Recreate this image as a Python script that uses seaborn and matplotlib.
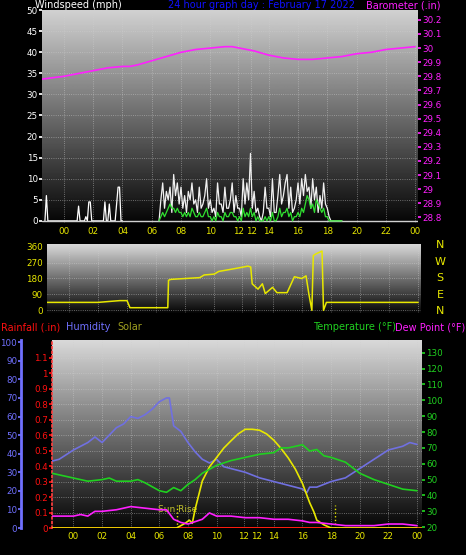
import numpy as np
import pandas as pd
import matplotlib
matplotlib.use("Agg")
import matplotlib.pyplot as plt
import seaborn as sns

sns.set_theme(style="dark")
plt.rcParams['font.family'] = ['DejaVu Sans']

# ---------------- data ----------------
baro_h = [-1.5, 0, 1, 2, 3, 4, 4.5, 5, 6, 7, 8, 9, 10, 11, 11.5, 12, 13, 14, 15, 16, 17, 18, 19, 20, 21, 22, 23, 24]
baro_v = [29.78, 29.80, 29.82, 29.84, 29.86, 29.87, 29.87, 29.88, 29.91, 29.94, 29.97, 29.99, 30.00, 30.01, 30.01, 30.00, 29.98, 29.95, 29.93, 29.92, 29.92, 29.93, 29.94, 29.96, 29.97, 29.99, 30.00, 30.01]

early_h = [-1.3, -1.2, -1.1, 0.9, 1.0, 1.1, 1.4, 1.5, 1.6, 1.7, 1.8, 1.9, 2.7, 2.8, 2.9, 3.0, 3.1, 3.2, 3.5, 3.6, 3.7, 3.8, 3.9, 4.0]
early_v = [0, 6, 0, 0, 3.5, 0, 0, 1, 0, 4.5, 4.5, 0, 0, 4.5, 0, 0, 4, 0, 0, 4, 8, 8, 0, 0]
gust_h = np.linspace(6.5, 19.0, 101)
gust_v = [0, 5, 9, 3, 7, 5, 8, 2, 11, 6,
          9, 4, 8, 3, 6, 2, 7, 5, 9, 4,
          5, 2, 8, 3, 4, 6, 10, 3, 5, 2,
          3, 1, 9, 4, 4, 2, 8, 3, 3, 5,
          9, 2, 6, 3, 3, 1, 10, 4, 9, 5,
          16, 3, 7, 2, 3, 1, 0, 2, 8, 3,
          3, 1, 10, 2, 2, 6, 11, 4, 6, 9,
          11, 3, 8, 2, 3, 5, 9, 4, 10, 6,
          11, 7, 8, 3, 10, 5, 8, 2, 6, 3,
          9, 4, 3, 1, 0, 0, 0, 0, 0, 0, 0]
avg_v = [0, 1, 2, 1, 2, 3, 4, 3, 3, 2,
         3, 2, 2, 1, 2, 1, 2, 1, 3, 2,
         1, 1, 2, 1, 1, 2, 3, 1, 1, 0,
         1, 0, 2, 1, 1, 0, 2, 1, 1, 2,
         2, 1, 1, 0, 1, 0, 3, 1, 2, 1,
         3, 1, 2, 0, 1, 0, 0, 0, 1, 0,
         1, 0, 2, 0, 0, 1, 3, 1, 2, 2,
         3, 1, 2, 0, 1, 1, 2, 1, 3, 2,
         4, 6, 5, 3, 4, 2, 5, 4, 3, 2,
         3, 1, 1, 0, 0, 0, 0, 0, 0, 0, 0]

dir_h = [-1.5, 0, 2, 3.5, 4, 4.2, 5, 6.8, 6.85, 7, 8, 9, 9.3, 10, 10.3, 11, 12, 12.3, 12.5, 12.6, 13, 13.3, 13.5, 14, 14.3, 15, 15.5, 16, 16.3, 16.5, 16.7, 16.8, 17, 17.4, 17.5, 17.7, 20, 24]
dir_v = [45, 45, 45, 55, 55, 15, 15, 15, 170, 175, 180, 185, 200, 205, 220, 230, 245, 250, 245, 150, 120, 150, 95, 130, 100, 100, 190, 180, 195, 90, 0, 310, 320, 335, 0, 45, 45, 45]

hum_h = [-1.5, -1, 0, 0.5, 1, 1.5, 2, 2.5, 3, 3.5, 4, 4.5, 5, 5.5, 6, 6.5, 6.7, 7, 7.5, 8, 8.5, 9, 9.5, 10, 10.5, 11, 12, 13, 14, 15, 16, 16.3, 16.5, 17, 18, 19, 20, 21, 22, 23, 23.5, 24]
hum_v = [36, 37, 42, 44, 46, 49, 46, 50, 54, 56, 60, 59, 61, 64, 68, 70, 70, 55, 52, 46, 41, 37, 35, 37, 33, 32, 30, 27, 25, 23, 21, 19, 22, 22, 25, 27, 32, 37, 42, 44, 46, 45]

temp_h = [-1.5, 0, 1, 2, 2.5, 3, 4, 4.5, 5, 6, 6.5, 7, 7.5, 8, 8.5, 9, 10, 11, 12, 13, 14, 14.5, 15, 16, 16.5, 17, 17.5, 18, 19, 20, 21, 22, 23, 24]
temp_v = [54, 51, 49, 50, 51, 49, 49, 50, 48, 43, 42, 45, 43, 47, 50, 54, 59, 62, 64, 66, 67, 70, 70, 72, 68, 69, 65, 64, 61, 54, 50, 47, 44, 43]

dew_h = [-1.5, 0, 0.5, 1, 1.5, 2, 3, 4, 5, 6, 6.5, 7, 7.5, 8, 9, 9.5, 10, 11, 12, 13, 14, 15, 16, 16.5, 17, 18, 19, 20, 21, 22, 23, 24]
dew_v = [27, 27, 28, 27, 30, 30, 31, 33, 32, 31, 31, 25, 23, 22, 25, 29, 27, 27, 26, 26, 25, 25, 24, 23, 23, 22, 21, 21, 21, 22, 22, 21]

sol_h = [-1.5, 7.2, 7.8, 8.1, 8.3, 8.5, 9, 9.5, 10, 10.5, 11, 11.5, 12, 12.5, 13, 13.5, 14, 14.5, 15, 15.5, 16, 16.5, 16.8, 17, 17.5, 18, 24]
sol_v = [0, 0, 15, 25, 15, 60, 150, 195, 225, 255, 278, 300, 315, 315, 312, 300, 280, 254, 224, 188, 142, 81, 51, 25, 10, 0, 0]

rain_h = [-1.5, 24]
rain_v = [0, 0]

xt_pos = [0, 2, 4, 6, 8, 10, 11.9, 12.8, 14, 16, 18, 20, 22, 24]
xt_lab = ["00", "02", "04", "06", "08", "10", "12", "12", "14", "16", "18", "20", "22", "00"]

# ---------------- figure ----------------
W, H = 466, 555
fig = plt.figure(figsize=(W / 100, H / 100), dpi=100, facecolor="black")

def box(x0, y0, x1, y1):
    return [x0 / W, 1 - y1 / H, (x1 - x0) / W, (y1 - y0) / H]

def backdrop(ax, top=0.82):
    grad = np.linspace(top, 0.02, 256).reshape(-1, 1)
    ax.imshow(grad, cmap="gray", vmin=0, vmax=1, aspect="auto",
              extent=[0, 1, 0, 1], transform=ax.transAxes, zorder=0)
    ax.grid(True, color="#d0d0d0", linestyle=":", linewidth=0.6, alpha=0.6)
    for s in ax.spines.values():
        s.set_visible(False)

YEL = "#e8e800"
fs = 6.3
tfs = 7

# ---- top panel ----
ax1 = fig.add_axes(box(42, 10, 418, 223))
backdrop(ax1)
sns.lineplot(x=early_h, y=early_v, ax=ax1, color="white", lw=0.9, zorder=3)
sns.lineplot(x=gust_h, y=gust_v, ax=ax1, color="#f0f0f0", lw=0.9, zorder=3)
sns.lineplot(x=gust_h, y=avg_v, ax=ax1, color="#30e030", lw=0.9, zorder=4)
ax1.axhline(0, color="#d0d0d0", lw=1, zorder=3)
ax1.set_xlim(-1.5, 24.2)
ax1.set_ylim(-0.5, 50)
ax1.set_yticks(range(0, 51, 5))
ax1.tick_params(axis="y", colors="white", labelsize=fs, length=2, pad=1)
ax1.set_xticks(xt_pos)
ax1.set_xticklabels(xt_lab)
ax1.tick_params(axis="x", colors=YEL, labelsize=fs, length=0, pad=3)
for t in ax1.get_xticklabels(): t.set_color(YEL)
ax1b = ax1.twinx()
sns.lineplot(x=baro_h, y=baro_v, ax=ax1b, color="#ff20ff", lw=1.2)
ax1b.set_ylim(28.76, 30.27)
bt = np.round(np.arange(28.8, 30.21, 0.1), 1)
ax1b.set_yticks(bt)
ax1b.set_yticklabels([f"{v:g}" for v in bt])
ax1b.tick_params(axis="y", colors="#ff20ff", labelsize=fs, length=2, pad=1)
for t in ax1b.get_yticklabels(): t.set_color("#ff20ff")
ax1b.grid(False)
for s in ax1b.spines.values(): s.set_visible(False)
ax1.set_xlabel(""); ax1.set_ylabel(""); ax1b.set_ylabel("")

fig.text(35 / W, 1 - 5 / H, "Windspeed (mph)", color="white", fontsize=tfs, va="center")
fig.text(262 / W, 1 - 5 / H, "24 hour graph day : February 17 2022", color="#1010ff", fontsize=tfs, va="center", ha="center")
fig.text(440 / W, 1 - 5 / H, "Barometer (.in)", color="#ff20ff", fontsize=tfs, va="center", ha="right")

# ---- middle panel ----
ax2 = fig.add_axes(box(47, 244, 421, 313))
backdrop(ax2, top=0.85)
sns.lineplot(x=dir_h, y=dir_v, ax=ax2, color=YEL, lw=1.1, zorder=3, sort=False)
ax2.set_xlim(-1.5, 24.2)
ax2.set_ylim(-15, 375)
ax2.set_yticks([0, 90, 180, 270, 360])
ax2.set_xticks(xt_pos)
ax2.set_xticklabels([])
ax2.tick_params(axis="y", colors=YEL, labelsize=fs, length=2, pad=1)
for t in ax2.get_yticklabels(): t.set_color(YEL)
ax2.set_xlabel(""); ax2.set_ylabel("")
for i, c in enumerate("NWSEN"):
    fig.text(440 / W, 1 - (245 + i * 16.5) / H, c, color=YEL, fontsize=8, ha="center", va="center")

# ---- bottom panel ----
ax3 = fig.add_axes(box(52, 340, 422, 528))
backdrop(ax3, top=0.85)
axh = ax3.twinx()
axs = ax3.twinx()
axt = ax3.twinx()

sns.lineplot(x=hum_h, y=hum_v, ax=axh, color="#7070e0", lw=1.2)
sns.lineplot(x=sol_h, y=sol_v, ax=axs, color=YEL, lw=1.2)
sns.lineplot(x=temp_h, y=temp_v, ax=axt, color="#20d020", lw=1.2)
sns.lineplot(x=dew_h, y=dew_v, ax=axt, color="#ff20ff", lw=1.2)
sns.lineplot(x=rain_h, y=rain_v, ax=ax3, color="#ff1010", lw=2, zorder=5)

ax3.set_xlim(-1.5, 24.35)
ax3.set_ylim(0, 1.215)
rt = np.round(np.arange(0, 1.11, 0.1), 1)
ax3.set_yticks(rt)
ax3.set_yticklabels([f"{v:g}" for v in rt])
ax3.tick_params(axis="y", colors="#ff1010", labelsize=fs, length=2, pad=1)
for t in ax3.get_yticklabels(): t.set_color("#ff1010")
ax3.spines["left"].set_visible(True)
ax3.spines["left"].set_color("#ff4040")
ax3.spines["left"].set_linestyle(":")
ax3.set_xticks(xt_pos)
ax3.set_xticklabels(xt_lab)
ax3.tick_params(axis="x", colors=YEL, labelsize=fs, length=0, pad=3)
for t in ax3.get_xticklabels(): t.set_color(YEL)

axh.set_ylim(0, 101.2)
axh.yaxis.set_ticks_position("left")
axh.spines["left"].set_position(("outward", 22))
axh.spines["left"].set_visible(True)
axh.spines["left"].set_color("#7070ff")
axh.spines["left"].set_linewidth(2)
axh.set_yticks(range(0, 101, 10))
axh.tick_params(axis="y", colors="#7070ff", labelsize=fs, length=2, pad=1)
for t in axh.get_yticklabels(): t.set_color("#7070ff")
for k in ["right", "top", "bottom"]: axh.spines[k].set_visible(False)
axh.grid(False)

axs.set_ylim(0, 600)
axs.set_yticks([])
for s in axs.spines.values(): s.set_visible(False)
axs.grid(False)

axt.set_ylim(19.5, 138)
axt.set_yticks(range(20, 131, 10))
axt.tick_params(axis="y", colors="#20d020", labelsize=fs, length=2, pad=1)
for t in axt.get_yticklabels(): t.set_color("#20d020")
for s in axt.spines.values(): s.set_visible(False)
axt.grid(False)

ax3.axhline(0.003, color="#ffa000", lw=1.2, zorder=4)
for xv in [7.2, 18.3]:
    ax3.axvline(xv, ymin=0, ymax=0.12, color=YEL, ls=":", lw=1, zorder=5)
ax3.text(7.3, 0.12, "Sun Rise", color="#c0c030", fontsize=6.5, ha="center", va="center", zorder=6)
for a in [ax3, axh, axs, axt]:
    a.set_xlabel(""); a.set_ylabel("")
    a.set_xlim(-1.5, 24.35)

yb = 1 - 327 / H
fig.text(1 / W, yb, "Rainfall (.in)", color="#ff1010", fontsize=tfs, va="center")
fig.text(66 / W, yb, "Humidity", color="#7070ff", fontsize=tfs, va="center")
fig.text(117 / W, yb, "Solar", color="#a0a020", fontsize=tfs, va="center")
fig.text(313 / W, yb, "Temperature (°F)", color="#20d020", fontsize=tfs, va="center")
fig.text(465 / W, yb, "Dew Point (°F)", color="#ff20ff", fontsize=tfs, va="center", ha="right")

fig.savefig("out.png", dpi=100, facecolor="black")
